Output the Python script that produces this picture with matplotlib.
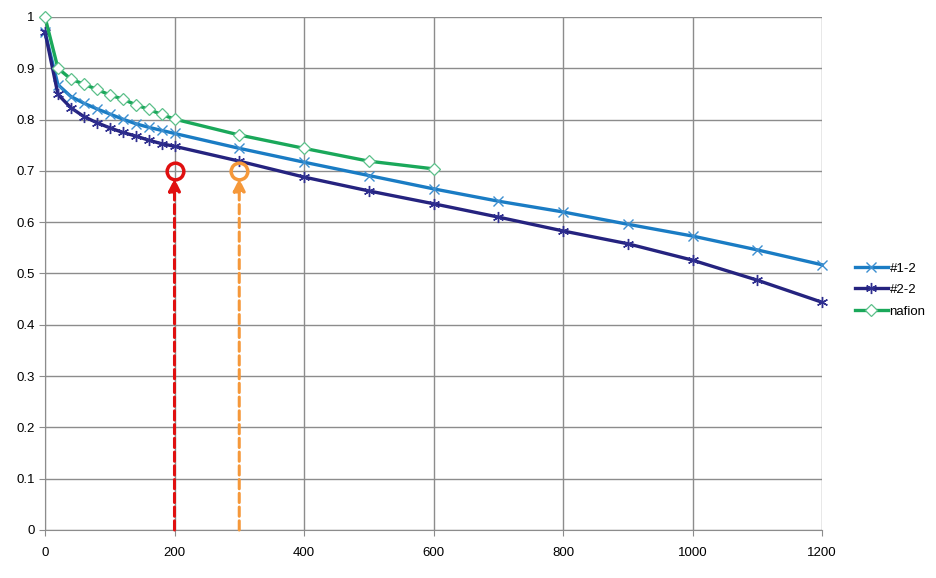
import matplotlib
matplotlib.use("Agg")
import matplotlib.pyplot as plt
from matplotlib import font_manager

x_short = [0, 20, 40, 60, 80, 100, 120, 140, 160, 180, 200, 300, 400, 500, 600]
x_long = x_short + [700, 800, 900, 1000, 1100, 1200]

s12 = [0.970, 0.868, 0.845, 0.832, 0.821, 0.811, 0.801, 0.792, 0.785, 0.779, 0.773,
       0.744, 0.717, 0.691, 0.665, 0.641, 0.620, 0.596, 0.573, 0.546, 0.517]
s22 = [0.971, 0.849, 0.823, 0.806, 0.794, 0.784, 0.775, 0.768, 0.760, 0.753, 0.748,
       0.719, 0.688, 0.661, 0.636, 0.610, 0.583, 0.558, 0.526, 0.487, 0.444]
nafion = [1.000, 0.900, 0.879, 0.869, 0.859, 0.848, 0.840, 0.829, 0.820, 0.810, 0.801,
          0.770, 0.744, 0.719, 0.704]

labels = ["#1-2", "#2-2", "nafion"]
marks_x = [200, 300]
mark_y = 0.7

names = {f.name for f in font_manager.fontManager.ttflist}
fam = ["Liberation Sans Narrow", "Liberation Sans", "DejaVu Sans"]
fam = [f for f in fam if f in names] or ["DejaVu Sans"]
plt.rcParams["font.family"] = fam

fig = plt.figure(figsize=(9.36, 5.78), dpi=100)
ax = fig.add_axes([45/936, 48/578, 777/936, 513/578])

c12 = "#1a7cc4"
c22 = "#25237f"
cna = "#1aa85a"

ax.plot(x_long, s12, color=c12, lw=2.4, marker="x", ms=7, mew=1.0,
        mec="#3d8fd0", label=labels[0], zorder=4, clip_on=False)
ax.plot(x_long, s22, color=c22, lw=2.4, marker=(6, 2, 0), ms=8, mew=1.0,
        mec="#2f2f90", label=labels[1], zorder=4, clip_on=False)
ax.plot(x_short, nafion, color=cna, lw=2.4, marker="D", ms=6, mew=0.9,
        mfc="white", mec="#5cc08a", label=labels[2], zorder=5, clip_on=False)

for xv, col in zip(marks_x, ["#e01010", "#f5983a"]):
    ax.annotate("", xy=(xv, 0.685), xytext=(xv, 0.0),
                arrowprops=dict(arrowstyle="-|>", color=col, lw=2.2, ls=(0, (3, 1.5)),
                                mutation_scale=18, shrinkA=0, shrinkB=0), zorder=6)
    ax.plot([xv], [mark_y], marker="o", ms=12, mfc="none", mec=col, mew=2.5, zorder=7)

ax.set_xlim(0, 1200)
ax.set_ylim(0, 1)
ax.set_xticks(range(0, 1201, 200))
ax.set_yticks([i / 10 for i in range(11)])
ax.set_yticklabels(["0", "0.1", "0.2", "0.3", "0.4", "0.5", "0.6", "0.7", "0.8", "0.9", "1"])
ax.grid(True, color="#8c8c8c", lw=1.0)
ax.set_axisbelow(True)
for side in ["top", "right"]:
    ax.spines[side].set_visible(False)
for side in ["left", "bottom"]:
    ax.spines[side].set_color("#8c8c8c")
ax.tick_params(axis="both", colors="#8c8c8c", labelcolor="black", labelsize=9.5,
               length=4, direction="out")
ax.tick_params(axis="x", pad=8)

leg = ax.legend(loc="center left", bbox_to_anchor=(1.03, 0.468), frameon=False,
                fontsize=9.5, handlelength=2.5, labelspacing=0.7, handletextpad=0.15,
                borderpad=0.2)

fig.savefig("out.png", dpi=100)
